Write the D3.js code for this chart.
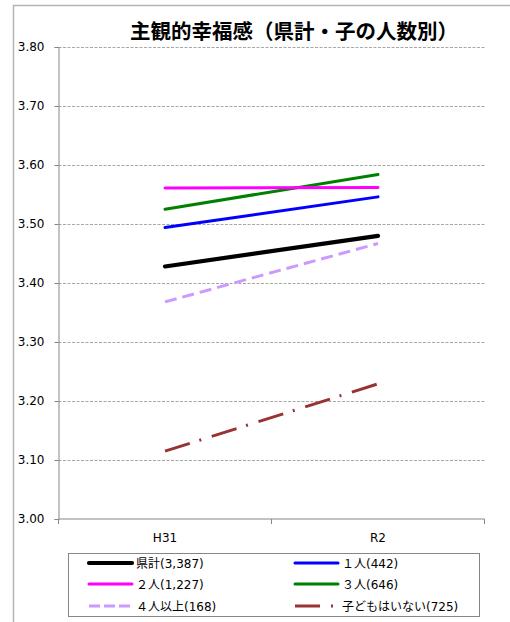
<!DOCTYPE html>
<html><head><meta charset="utf-8">
<script src="https://cdn.jsdelivr.net/npm/d3@7"></script>
<style>
body{margin:0;background:#fff;}
svg{display:block;}
</style></head>
<body>
<svg id="c" width="510" height="622"></svg>
<script>
const categories = ["H31", "R2"];
const seriesNames = ["県計(3,387)", "１人(442)", "２人(1,227)", "３人(646)", "４人以上(168)", "子どもはいない(725)"];
const kenkei = [3.428, 3.480];
const hitori = [3.494, 3.546];
const futari = [3.561, 3.562];
const sannin = [3.525, 3.584];
const yonin = [3.368, 3.467];
const kodomoNashi = [3.115, 3.229];
const yTicks = [3.00, 3.10, 3.20, 3.30, 3.40, 3.50, 3.60, 3.70, 3.80];
const title = "主観的幸福感（県計・子の人数別）";

const styles = [
  {color:"#000000", w:4.2, dash:null, legDash:null},
  {color:"#0000ff", w:3, dash:null, legDash:null},
  {color:"#ff00ff", w:3, dash:null, legDash:null},
  {color:"#008000", w:3, dash:null, legDash:null},
  {color:"#cc99ff", w:3, dash:"12,6", legDash:"11,4"},
  {color:"#993333", w:3, dash:"26,10,2,11", legDash:"25,11,2,20"}
];
const allValues = [kenkei, hitori, futari, sannin, yonin, kodomoNashi];

const svg = d3.select("#c");
const font = "'DejaVu Sans', Verdana, sans-serif";
const jfont = "'DejaVu Sans', 'Noto Sans CJK JP', sans-serif";

// outer frame
svg.append("rect").attr("x",13.5).attr("y",5.5).attr("width",520).attr("height",640)
  .attr("fill","none").attr("stroke","#b4b4b4").attr("stroke-width",1.5);

const L = 58.5, R = 484.5, T = 47, B = 519;
const x = d3.scaleBand().domain(categories).range([L, R]);
const y = d3.scaleLinear().domain([3.0, 3.8]).range([B, T]);

// gridlines
svg.append("g").selectAll("line").data(yTicks.filter(d=>d>3.0)).join("line")
  .attr("x1",L).attr("x2",R).attr("y1",d=>Math.round(y(d))+0.5).attr("y2",d=>Math.round(y(d))+0.5)
  .attr("stroke","#a6a6a6").attr("stroke-width",1).attr("stroke-dasharray","3,1.5");

// y axis
const yAxis = d3.axisLeft(y).tickValues(yTicks).tickFormat(d3.format(".2f")).tickSize(4).tickPadding(10);
const gy = svg.append("g").attr("transform",`translate(${L},0)`).call(yAxis);
gy.select(".domain").attr("stroke","#868686");
gy.selectAll(".tick line").attr("stroke","#868686");
gy.selectAll("text").attr("font-family",font).attr("font-size","12px").attr("fill","#000");

// x axis
const xAxis = d3.axisBottom(x).tickSize(0).tickPadding(14);
const gx = svg.append("g").attr("transform",`translate(0,${B})`).call(xAxis);
gx.select(".domain").attr("stroke","#868686").attr("d",`M${L},0H${R}`);
gx.selectAll("text").attr("font-family",font).attr("font-size","12px").attr("fill","#000");
const bounds = [L, L + x.step(), R];
gx.append("g").selectAll("line").data(bounds).join("line")
  .attr("x1",d=>d).attr("x2",d=>d).attr("y1",0).attr("y2",5).attr("stroke","#868686");

// lines
const line = d3.line().x((d,i)=>x(categories[i]) + x.bandwidth()/2).y(d=>y(d));
const order = [5,4,0,1,3,2];
order.forEach(i=>{
  const s = styles[i];
  svg.append("path").datum(allValues[i]).attr("d",line)
    .attr("fill","none").attr("stroke",s.color).attr("stroke-width",s.w)
    .attr("stroke-linecap", s.dash ? "butt" : "round")
    .attr("stroke-dasharray", s.dash);
});

// title
svg.append("text").attr("x",130).attr("y",39).attr("text-anchor","start")
  .attr("font-family","'Noto Sans CJK JP', sans-serif").attr("font-weight","bold")
  .attr("font-size","20.5px").attr("fill","#000").text(title);

// legend
svg.append("rect").attr("x",68.5).attr("y",553.5).attr("width",411).attr("height",63)
  .attr("fill","#fff").attr("stroke","#868686").attr("stroke-width",1);
const legX = [89, 295], legY = [563, 584, 606];
seriesNames.forEach((name,i)=>{
  const col = i%2, row = Math.floor(i/2);
  const s = styles[i];
  const g = svg.append("g");
  g.append("line").attr("x1",legX[col]).attr("x2",legX[col]+43)
    .attr("y1",legY[row]).attr("y2",legY[row])
    .attr("stroke",s.color).attr("stroke-width",s.w)
    .attr("stroke-linecap", s.legDash ? "butt" : "round")
    .attr("stroke-dasharray", s.legDash);
  g.append("text").attr("x",legX[col]+47).attr("y",legY[row]+4.5)
    .attr("font-family",jfont).attr("font-size","12px").attr("fill","#000")
    .text(name);
});
</script>
</body></html>
